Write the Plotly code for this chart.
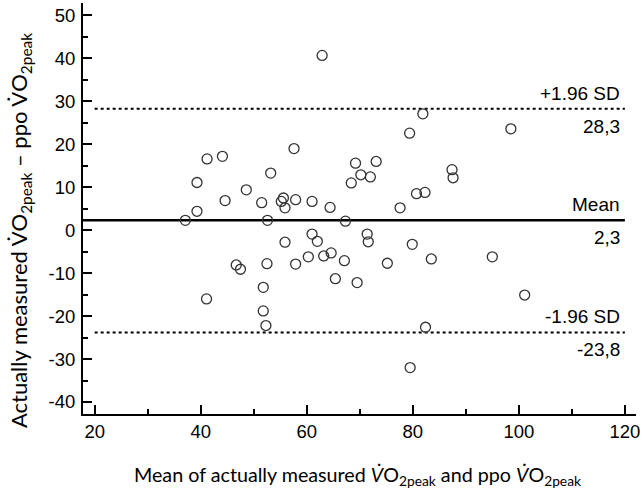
import plotly.graph_objects as go

# Bland-Altman data
mean_vals = [37.1, 39.3, 39.3, 41.2, 44.1, 44.6, 48.6, 51.5, 53.2, 52.6,
             57.6, 55.2, 55.6, 55.9, 57.9, 61.0, 55.9, 79.4, 69.2, 73.1,
             70.2, 72.0, 68.4, 64.4, 77.6, 80.7, 82.3, 67.3, 61.0, 62.0,
             71.4, 71.6, 79.9, 60.3, 63.2, 64.6, 67.1, 75.2, 83.5, 65.4,
             69.5, 82.4, 57.9, 52.5, 46.7, 47.5, 51.8, 41.1, 51.8, 52.3,
             98.5, 87.4, 87.6, 95.0, 101.1, 62.9, 81.9, 79.5]
diff_vals = [2.3, 4.4, 11.1, 16.6, 17.2, 6.9, 9.4, 6.4, 13.3, 2.3,
             19.0, 6.7, 7.5, 5.2, 7.1, 6.7, -2.8, 22.6, 15.6, 16.0,
             12.9, 12.4, 11.0, 5.3, 5.2, 8.5, 8.8, 2.1, -0.9, -2.6,
             -0.9, -2.7, -3.3, -6.2, -6.0, -5.3, -7.1, -7.7, -6.7, -11.3,
             -12.2, -22.6, -7.9, -7.8, -8.1, -9.1, -13.3, -16.0, -18.8, -22.2,
             23.6, 14.1, 12.2, -6.2, -15.1, 40.7, 27.1, -32.0]

bias = 2.3
upper_loa = 28.3
lower_loa = -23.8
line_x = [20, 120]
mean_line_x = [17.8, 120]
x_ticks = [20, 40, 60, 80, 100, 120]
y_ticks = [-40, -30, -20, -10, 0, 10, 20, 30, 40, 50]
y_ticktext = [str(v) for v in y_ticks]

fig = go.Figure()
fig.add_trace(go.Scatter(x=mean_line_x, y=[bias, bias], mode="lines",
                         line=dict(color="black", width=2.5), hoverinfo="skip"))
fig.add_trace(go.Scatter(x=line_x, y=[upper_loa, upper_loa], mode="lines",
                         line=dict(color="black", width=2, dash="dot"), hoverinfo="skip"))
fig.add_trace(go.Scatter(x=line_x, y=[lower_loa, lower_loa], mode="lines",
                         line=dict(color="black", width=2, dash="dot"), hoverinfo="skip"))
fig.add_trace(go.Scatter(x=mean_vals, y=diff_vals, mode="markers",
                         marker=dict(symbol="circle-open", size=10, color="#333333",
                                     line=dict(width=1.3, color="#333333"))))

lab_font = dict(family="Liberation Sans", size=19, color="black")
labels = [("+1.96 SD", upper_loa, "bottom"), (f"{upper_loa:.1f}".replace(".", ","), upper_loa, "top"),
          ("Mean", bias, "bottom"), (f"{bias:.1f}".replace(".", ","), bias, "top"),
          ("-1.96 SD", lower_loa, "bottom"), (f"{lower_loa:.1f}".replace(".", ","), lower_loa, "top")]
for text, yv, anc in labels:
    fig.add_annotation(x=120, y=yv, text=text, showarrow=False, xanchor="right",
                       yanchor=anc, xshift=-3, yshift=(3 if anc == "bottom" else -5),
                       font=lab_font)

# axis titles
fig.add_annotation(xref="paper", yref="paper", x=0.4955, y=-0.152, xanchor="center", yanchor="middle",
                   text="Mean of actually measured <i>V̇</i>O<sub>2peak</sub> and ppo <i>V̇</i>O<sub>2peak</sub>",
                   showarrow=False, font=dict(family="Lato", size=19.7, color="black"))
fig.add_annotation(xref="paper", yref="paper", x=0, y=0.445, xanchor="center", yanchor="middle",
                   xshift=-63, textangle=-90,
                   text="Actually measured V̇O<sub>2peak</sub> – ppo V̇O<sub>2peak</sub>",
                   showarrow=False, font=dict(family="Lato", size=22, color="black"))

fig.update_layout(
    width=642, height=490,
    margin=dict(l=83, r=6, t=3, b=76),
    paper_bgcolor="white", plot_bgcolor="white",
    showlegend=False,
    xaxis=dict(range=[17.8, 122.1], tickvals=x_ticks, ticks="inside", ticklen=9, tickwidth=2,
               tickcolor="black", showline=True, linewidth=2, linecolor="black",
               showgrid=False, zeroline=False, automargin=False,
               minor=dict(ticks="inside", ticklen=5, tickwidth=2, dtick=10, tick0=30, tickcolor="black"),
               tickfont=dict(family="Liberation Sans", size=18.5, color="black")),
    yaxis=dict(range=[-42.8, 52.9], tickvals=y_ticks, ticktext=y_ticktext, ticks="inside", ticklen=9,
               tickwidth=2, tickcolor="black", showline=True, linewidth=2, linecolor="black",
               showgrid=False, zeroline=False, automargin=False, ticklabelstandoff=2,
               minor=dict(ticks="inside", ticklen=5, tickwidth=2, dtick=10, tick0=45, tickcolor="black"),
               tickfont=dict(family="Liberation Sans", size=18.5, color="black")),
)
fig.write_html("out.html", config={"displayModeBar": False},
               post_script="document.body.style.margin='0px';")
